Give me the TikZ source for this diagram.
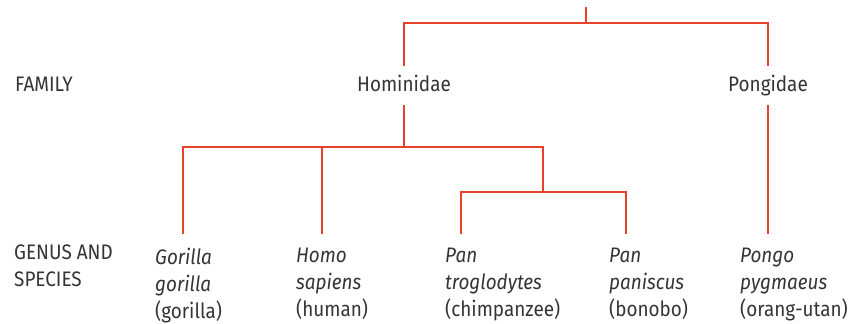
\documentclass[tikz,border=0pt]{standalone}
\usepackage{fontspec}
\setmainfont{Fira Sans}[FakeStretch=0.9]
\usetikzlibrary{positioning}
\definecolor{treered}{RGB}{232,66,44}
\definecolor{labelgray}{RGB}{52,52,52}
\tikzset{
    tree/.style={x=1pt, y=-1pt, font=\fontsize{21}{27}\selectfont, text=labelgray},
    link/.style={draw=treered, line width=2.4pt},
    taxon/.style={inner sep=0pt, anchor=base, text height=15pt, text depth=4pt, outer ysep=10pt},
    species/.style={inner sep=0pt, anchor=north west, align=left},
    rank/.style={inner sep=0pt, align=left},
}

\begin{document}
\begin{tikzpicture}[tree]
    \useasboundingbox (0,0) rectangle (863,324);

    % rank labels
    \node[rank, anchor=base west]  (family) at (15,91)  {FAMILY};
    \node[rank, anchor=north west] (genus)  at (14,245) {GENUS AND\\SPECIES};

    % families
    \node[taxon] (hom) at (404,91) {Hominidae};
    \node[taxon] (pon) at (768,91) {Pongidae};

    % genus and species
    \node[species] (gor)   at (155,248) {\textit{Gorilla}\\\textit{gorilla}\\(gorilla)};
    \node[species] (homo)  at (296,248) {\textit{Homo}\\\textit{sapiens}\\(human)};
    \node[species] (trog)  at (445,248) {\textit{Pan}\\\textit{troglodytes}\\(chimpanzee)};
    \node[species] (panis) at (609,248) {\textit{Pan}\\\textit{paniscus}\\(bonobo)};
    \node[species] (pongo) at (740,248) {\textit{Pongo}\\\textit{pygmaeus}\\(orang-utan)};

    % branch points and line ends
    \coordinate (root)      at (586,7);
    \coordinate (fork1)     at (586,23);
    \coordinate (fork2)     at (404,147);
    \coordinate (panfork)   at (543,192);
    \coordinate (gor-end)   at (183,234);
    \coordinate (homo-end)  at (322,234);
    \coordinate (trog-end)  at (461,234);
    \coordinate (panis-end) at (626,234);

    \draw[link] (root) -- (fork1);
    \draw[link] (hom.north) |- (fork1) -| (pon.north);
    \draw[link] (hom.south) -- (fork2);
    \draw[link] (gor-end) |- (fork2) -| (panfork);
    \draw[link] (homo-end) -- (homo-end |- fork2);
    \draw[link] (trog-end) |- (panfork) -| (panis-end);
    \draw[link] (pon.south) -- (pon.south |- gor-end);
\end{tikzpicture}
\end{document}
